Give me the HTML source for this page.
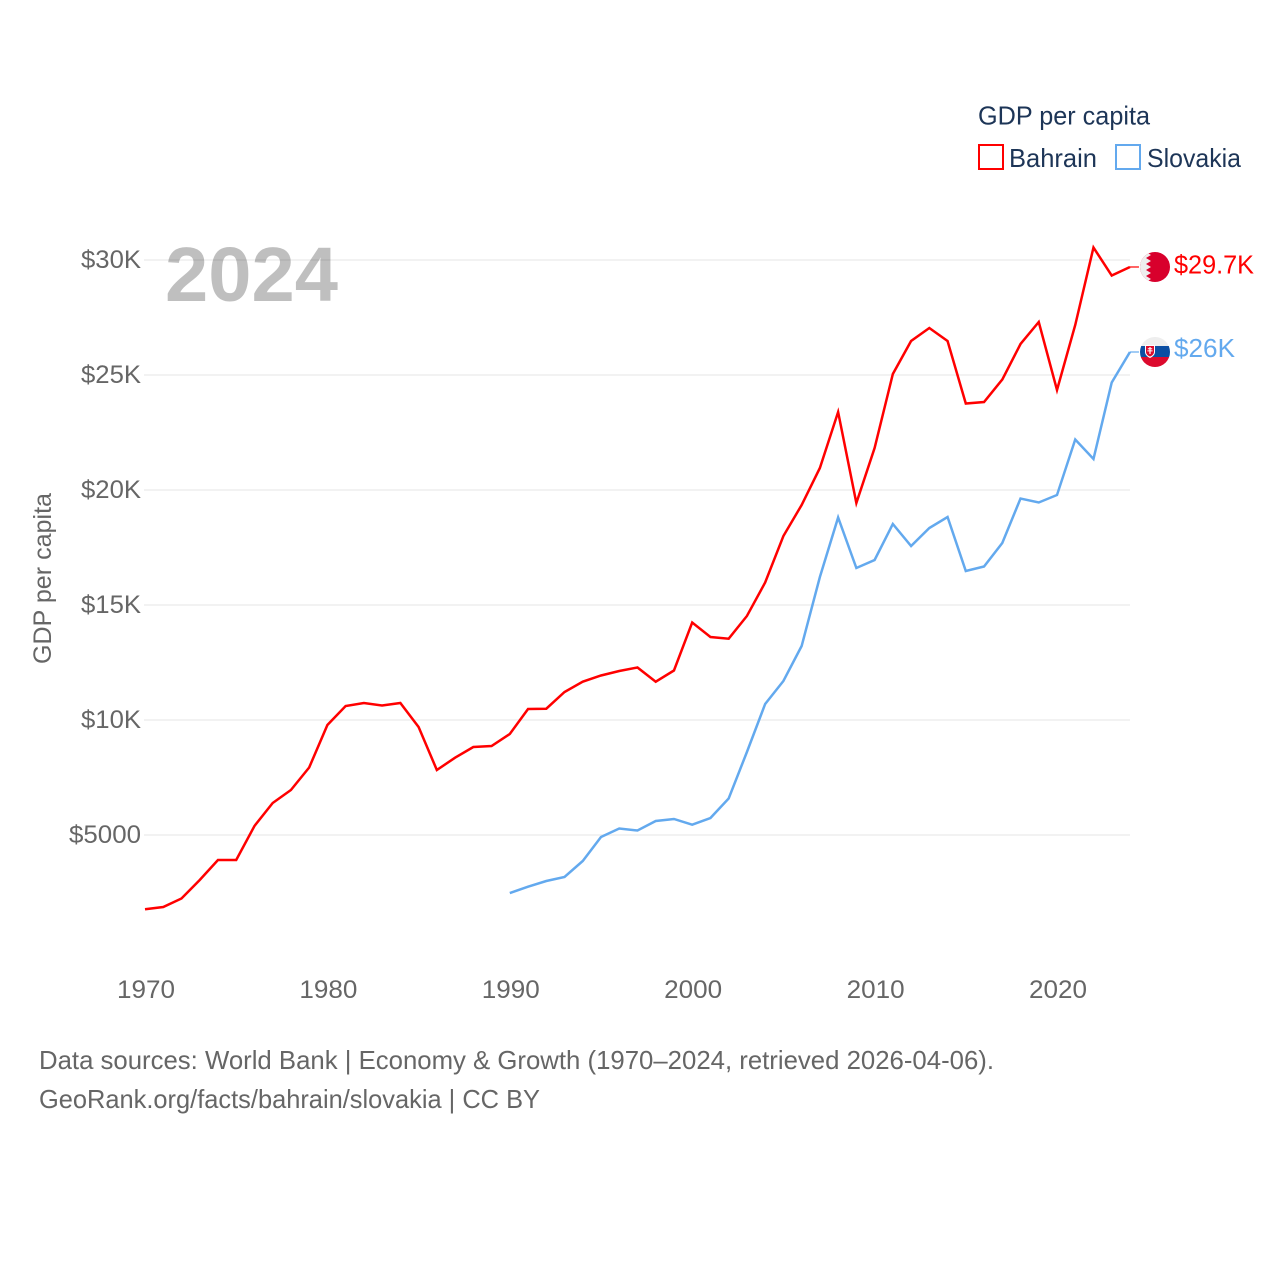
<!DOCTYPE html>
<html lang="en">
<head>
<meta charset="utf-8">
<title>GDP per capita: Bahrain and Slovakia</title>
<style>
  html, body { margin: 0; padding: 0; background: #fff; }
  svg { display: block; font-family: "Liberation Sans", sans-serif; }
</style>
</head>
<body>
<svg id="chart" xmlns="http://www.w3.org/2000/svg" width="1280" height="1280" viewBox="0 0 1280 1280">
  <defs>
    <clipPath id="flag-clip"><circle cx="0" cy="0" r="15"></circle></clipPath>
  </defs>
  <rect x="0" y="0" width="1280" height="1280" fill="#ffffff"></rect>

  <g id="grid"></g>
  <g id="y-ticks"></g>
  <g id="x-ticks"></g>

  <text transform="translate(51 578.5) rotate(-90)" text-anchor="middle" font-size="25" fill="#666666" textLength="171" lengthAdjust="spacingAndGlyphs">GDP per capita</text>

  <g id="series"></g>

  <text x="165" y="301" font-size="77" font-weight="700" fill="#000000" fill-opacity="0.25" textLength="173" lengthAdjust="spacingAndGlyphs">2024</text>

  <g id="legend">
    <text x="978" y="124.5" font-size="26" fill="#1d3557" textLength="172" lengthAdjust="spacingAndGlyphs">GDP per capita</text>
    <g>
      <rect x="979" y="145" width="24" height="24" fill="none" stroke="#ff0000" stroke-width="2"></rect>
      <text x="1009" y="167" font-size="26" fill="#1d3557" textLength="88" lengthAdjust="spacingAndGlyphs">Bahrain</text>
    </g>
    <g>
      <rect x="1116" y="145" width="24" height="24" fill="none" stroke="#63a9ee" stroke-width="2"></rect>
      <text x="1147" y="167" font-size="26" fill="#1d3557" textLength="94" lengthAdjust="spacingAndGlyphs">Slovakia</text>
    </g>
  </g>

  <g id="flag-bahrain">
    <g clip-path="url(#flag-clip)">
      <rect x="-15" y="-15" width="30" height="30" fill="#d8002c"></rect>
      <polygon points="-15,-15 -9,-15 -4,-12 -9,-9 -4,-6 -9,-3 -4,0 -9,3 -4,6 -9,9 -4,12 -9,15 -15,15" fill="#eeeeee"></polygon>
    </g>
  </g>

  <g id="flag-slovakia">
    <g clip-path="url(#flag-clip)">
      <rect x="-15" y="-15" width="30" height="10" fill="#eeeeee"></rect>
      <rect x="-15" y="-6" width="30" height="11" fill="#0b4ea2"></rect>
      <rect x="-15" y="5" width="30" height="11" fill="#dc0a2d"></rect>
      <path d="M-10,-7 H0 V0 C0,3 -3,5 -5,6 C-7,5 -10,3 -10,0 Z" fill="#ffffff"></path>
      <path d="M-9,-6 H-1 V0 C-1,2 -3,4 -5,4.5 C-7,4 -9,2 -9,0 Z" fill="#dc0a2d"></path>
      <path d="M-5.6,-5 H-4.4 V-3.8 H-2.8 V-2.8 H-4.4 V-1.6 H-2.4 V-0.6 H-4.4 V2 H-5.6 V-0.6 H-7.6 V-1.6 H-5.6 V-2.8 H-7.2 V-3.8 H-5.6 Z" fill="#ffffff"></path>
    </g>
  </g>

  <g id="value-labels"></g>

  <g>
    <text x="39" y="1069" font-size="26" fill="#666666" textLength="955" lengthAdjust="spacingAndGlyphs">Data sources: World Bank | Economy &amp; Growth (1970–2024, retrieved 2026-04-06).</text>
    <text x="39" y="1108" font-size="26" fill="#666666" textLength="501" lengthAdjust="spacingAndGlyphs">GeoRank.org/facts/bahrain/slovakia | CC BY</text>
  </g>
</svg>

<script>
const bahrainStartYear = 1970;
const slovakiaStartYear = 1990;
const bahrainValues = [1770, 1870, 2239, 3043, 3913, 3913, 5391, 6391, 6957, 7935, 9783, 10609, 10739, 10630, 10739, 9696, 7826, 8361, 8826, 8870, 9391, 10478, 10491, 11217, 11665, 11935, 12130, 12283, 11665, 12152, 14239, 13609, 13535, 14522, 15978, 18000, 19348, 20957, 23391, 19435, 21826, 25043, 26478, 27043, 26478, 23761, 23826, 24804, 26348, 27304, 24348, 27174, 30543, 29326, 29696];
const slovakiaValues = [2478, 2752, 3000, 3174, 3870, 4913, 5283, 5196, 5609, 5696, 5448, 5739, 6587, 8609, 10696, 11696, 13217, 16217, 18804, 16609, 16957, 18522, 17565, 18348, 18826, 16478, 16674, 17696, 19630, 19457, 19783, 22196, 21348, 24674, 26000];
const yTickValues = [5000, 10000, 15000, 20000, 25000, 30000];
const yTickLabels = ['$5000', '$10K', '$15K', '$20K', '$25K', '$30K'];
const xTickYears = [1970, 1980, 1990, 2000, 2010, 2020];
const bahrainValueLabel = '$29.7K';
const slovakiaValueLabel = '$26K';

const NS = 'http://www.w3.org/2000/svg';
const xScale = function (year) { return 145 + (year - 1970) * 18.24; };
const yScale = function (value) { return 950 - value * 0.023; };
const plotLeft = xScale(1970);
const plotRight = xScale(2024);

const gridGroup = document.getElementById('grid');
const yTickGroup = document.getElementById('y-ticks');
yTickValues.forEach(function (value, i) {
  const line = document.createElementNS(NS, 'line');
  
  
  line.setAttribute('x1', plotLeft - 1);
  line.setAttribute('x2', plotRight);
  line.setAttribute('y1', yScale(value));
  line.setAttribute('y2', yScale(value));
  line.setAttribute('stroke', '#eeeeee');
  line.setAttribute('stroke-width', '1.5');
  gridGroup.appendChild(line);

  const label = document.createElementNS(NS, 'text');
  
  
  const text = yTickLabels[i];
  label.setAttribute('x', 141 - (12 * text.length + 12));
  label.setAttribute('y', yScale(value) + 8);
  label.setAttribute('font-size', '25');
  label.setAttribute('fill', '#666666');
  label.setAttribute('textLength', 12 * text.length + 12);
  label.setAttribute('lengthAdjust', 'spacingAndGlyphs');
  label.textContent = text;
  yTickGroup.appendChild(label);
});

const xTickGroup = document.getElementById('x-ticks');
xTickYears.forEach(function (year) {
  const label = document.createElementNS(NS, 'text');
  
  
  label.setAttribute('x', xScale(year) - 28);
  label.setAttribute('y', 998);
  label.setAttribute('font-size', '25');
  label.setAttribute('fill', '#666666');
  label.setAttribute('textLength', '58');
  label.setAttribute('lengthAdjust', 'spacingAndGlyphs');
  label.textContent = String(year);
  xTickGroup.appendChild(label);
});

const seriesGroup = document.getElementById('series');
const pointsFor = function (startYear, values) {
  return values.map(function (value, i) {
    return xScale(startYear + i).toFixed(2) + ',' + yScale(value).toFixed(2);
  }).join(' ');
};

const bahrainLine = document.createElementNS(NS, 'polyline');


bahrainLine.setAttribute('points', pointsFor(bahrainStartYear, bahrainValues));
bahrainLine.setAttribute('fill', 'none');
bahrainLine.setAttribute('stroke', '#ff0000');
bahrainLine.setAttribute('stroke-width', '2.5');
bahrainLine.setAttribute('stroke-linejoin', 'miter');
seriesGroup.appendChild(bahrainLine);

const slovakiaLine = document.createElementNS(NS, 'polyline');


slovakiaLine.setAttribute('points', pointsFor(slovakiaStartYear, slovakiaValues));
slovakiaLine.setAttribute('fill', 'none');
slovakiaLine.setAttribute('stroke', '#63a9ee');
slovakiaLine.setAttribute('stroke-width', '2.5');
slovakiaLine.setAttribute('stroke-linejoin', 'miter');
seriesGroup.appendChild(slovakiaLine);

const bahrainLast = yScale(bahrainValues[bahrainValues.length - 1]);
const slovakiaLast = yScale(slovakiaValues[slovakiaValues.length - 1]);

const bahrainConnector = document.createElementNS(NS, 'line');


bahrainConnector.setAttribute('x1', plotRight);
bahrainConnector.setAttribute('x2', plotRight + 9);
bahrainConnector.setAttribute('y1', bahrainLast);
bahrainConnector.setAttribute('y2', bahrainLast);
bahrainConnector.setAttribute('stroke', '#ff0000');
bahrainConnector.setAttribute('stroke-width', '1.2');
seriesGroup.appendChild(bahrainConnector);

const slovakiaConnector = document.createElementNS(NS, 'line');


slovakiaConnector.setAttribute('x1', plotRight);
slovakiaConnector.setAttribute('x2', plotRight + 9);
slovakiaConnector.setAttribute('y1', slovakiaLast);
slovakiaConnector.setAttribute('y2', slovakiaLast);
slovakiaConnector.setAttribute('stroke', '#63a9ee');
slovakiaConnector.setAttribute('stroke-width', '1.2');
seriesGroup.appendChild(slovakiaConnector);

document.getElementById('flag-bahrain').setAttribute('transform', 'translate(1155 ' + bahrainLast + ')');
document.getElementById('flag-slovakia').setAttribute('transform', 'translate(1155 ' + slovakiaLast + ')');

const valueGroup = document.getElementById('value-labels');

const bahrainLabel = document.createElementNS(NS, 'text');


bahrainLabel.setAttribute('x', 1174);
bahrainLabel.setAttribute('y', bahrainLast + 6.5);
bahrainLabel.setAttribute('font-size', '26');
bahrainLabel.setAttribute('fill', '#ff0000');
bahrainLabel.setAttribute('textLength', '80');
bahrainLabel.setAttribute('lengthAdjust', 'spacingAndGlyphs');
bahrainLabel.textContent = bahrainValueLabel;
valueGroup.appendChild(bahrainLabel);

const slovakiaLabel = document.createElementNS(NS, 'text');


slovakiaLabel.setAttribute('x', 1174);
slovakiaLabel.setAttribute('y', slovakiaLast + 5);
slovakiaLabel.setAttribute('font-size', '26');
slovakiaLabel.setAttribute('fill', '#63a9ee');
slovakiaLabel.setAttribute('textLength', '61');
slovakiaLabel.setAttribute('lengthAdjust', 'spacingAndGlyphs');
slovakiaLabel.textContent = slovakiaValueLabel;
valueGroup.appendChild(slovakiaLabel);
</script>
</body>
</html>
